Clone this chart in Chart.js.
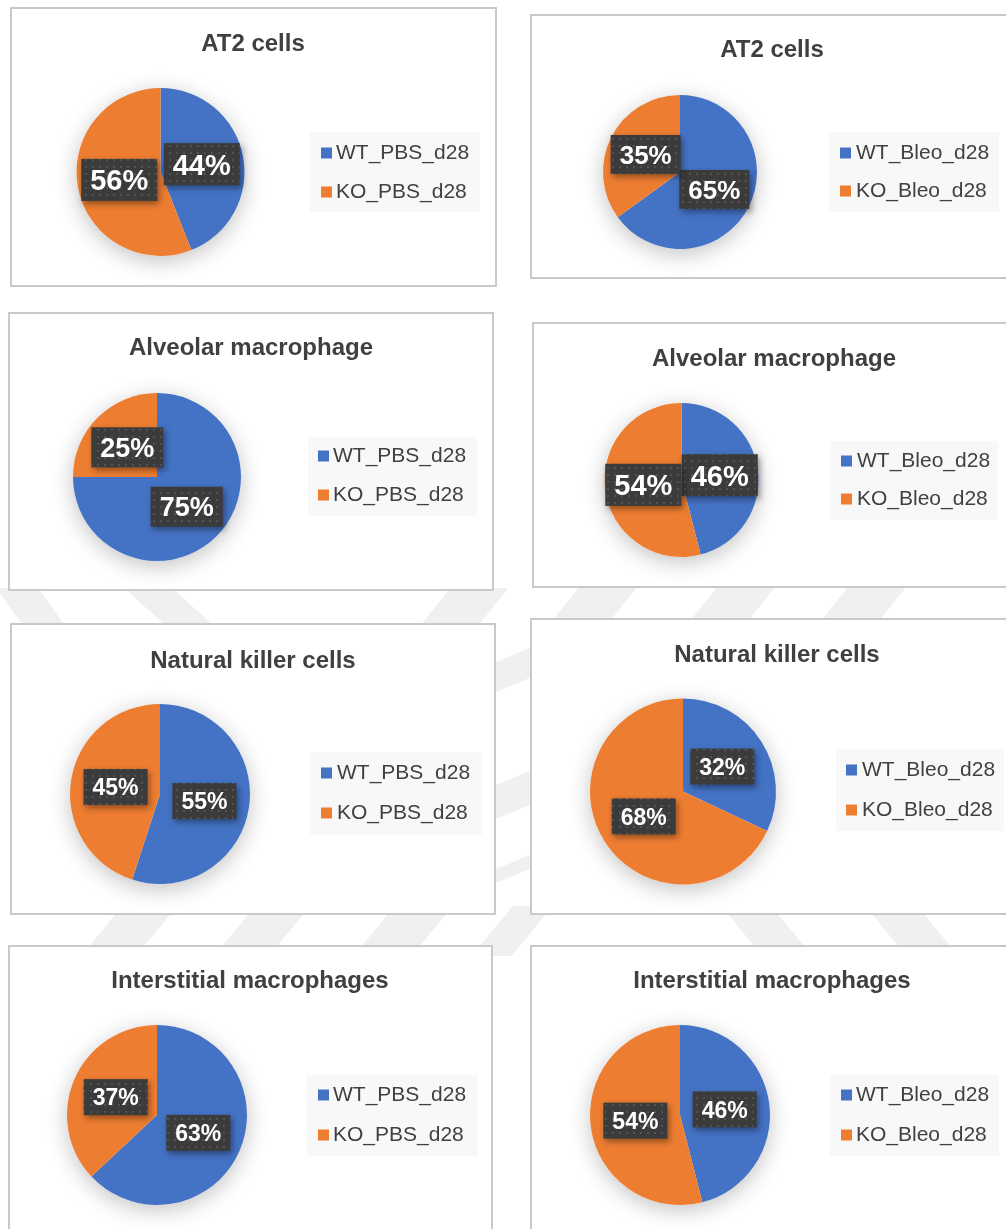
<!DOCTYPE html>
<html>
<head>
<meta charset="utf-8">
<title>Cell population shares, WT vs KO</title>
<script src="https://cdn.jsdelivr.net/npm/chart.js@4.4.1/dist/chart.umd.min.js"></script>
<style>
  html, body { margin: 0; padding: 0; background: #ffffff; }
  body { width: 1006px; height: 1229px; position: relative; overflow: hidden; }
  #backdrop { position: absolute; left: 0; top: 0; z-index: 0; }
  .panel { position: absolute; box-sizing: border-box; border: 2px solid #c9c9c9; background: #ffffff; z-index: 1; }
  .panel canvas { position: absolute; left: 0; top: 0; }
</style>
</head>
<body>
<canvas id="backdrop" width="1006" height="1229"></canvas>
<script>
// ---- data ----
const panelTitles = [
  'AT2 cells', 'AT2 cells',
  'Alveolar macrophage', 'Alveolar macrophage',
  'Natural killer cells', 'Natural killer cells',
  'Interstitial macrophages', 'Interstitial macrophages'
];
const pbsGroups = ['WT_PBS_d28', 'KO_PBS_d28'];
const bleoGroups = ['WT_Bleo_d28', 'KO_Bleo_d28'];
// left column = PBS, right column = Bleo
const panelGroups = [pbsGroups, bleoGroups, pbsGroups, bleoGroups, pbsGroups, bleoGroups, pbsGroups, bleoGroups];
const wtPercent = [44, 65, 75, 46, 55, 32, 63, 46];
const koPercent = [56, 35, 25, 54, 45, 68, 37, 54];

// ---- page layout (absolute page coordinates) ----
const frames = [
  { box: [10, 7, 487, 280],   pie: [160.5, 172, 84], title: [253, 42],  legend: [310, 132, 170, 80],  rows: [153, 192],   key: 321, text: 336, tag: 29 },
  { box: [530, 14, 484, 265], pie: [680, 172, 77],   title: [772, 48],  legend: [829, 132, 170, 80],  rows: [153, 191],   key: 840, text: 856, tag: 26 },
  { box: [8, 312, 486, 279],  pie: [157, 477, 84],   title: [251, 346], legend: [308, 437, 169, 79],  rows: [456, 495],   key: 318, text: 333, tag: 27 },
  { box: [532, 322, 482, 266],pie: [681.5, 480, 77], title: [774, 357], legend: [830, 441, 168, 79],  rows: [461, 499],   key: 841, text: 857, tag: 29 },
  { box: [10, 623, 486, 292], pie: [160, 794, 90],   title: [253, 659], legend: [310, 752, 172, 83],  rows: [773, 813],   key: 321, text: 337, tag: 23 },
  { box: [530, 618, 484, 297],pie: [683, 791.5, 93], title: [777, 653], legend: [836, 749, 168, 82],  rows: [770, 810],   key: 846, text: 862, tag: 23 },
  { box: [8, 945, 485, 300],  pie: [157, 1115, 90],  title: [250, 979], legend: [307, 1075, 171, 81], rows: [1095, 1135], key: 318, text: 333, tag: 23 },
  { box: [530, 945, 484, 300],pie: [680, 1115, 90],  title: [772, 979], legend: [830, 1075, 169, 81], rows: [1095, 1135], key: 841, text: 856, tag: 23 }
];

const FONT = '"Liberation Sans", Arial, Helvetica, sans-serif';
const SLICE_COLORS = ['#4472C4', '#ED7D31'];
const INK = '#404040';

// faint diagonal bands of the page background
(function drawBackdrop() {
  const c = document.getElementById('backdrop').getContext('2d');
  c.fillStyle = '#f0f0f0';
  function band(xMid, yMid, slope, width, y0, y1) {
    const xa = xMid + slope * (y0 - yMid), xb = xMid + slope * (y1 - yMid);
    c.beginPath();
    c.moveTo(xa - width / 2, y0); c.lineTo(xa + width / 2, y0);
    c.lineTo(xb + width / 2, y1); c.lineTo(xb - width / 2, y1);
    c.closePath(); c.fill();
  }
  // upper gap
  band(30, 606, 0.7, 42, 588, 624);
  band(168, 606, 1.1, 48, 588, 624);
  [465, 593, 731, 862].forEach(x => band(x, 606, -0.8, 58, 588, 624));
  // lower gap
  band(130, 930, -0.83, 55, 912, 948);
  band(263, 930, -0.83, 55, 912, 948);
  band(404, 930, -0.83, 58, 912, 948);
  band(513, 930, -0.83, 40, 906, 956);
  band(766, 930, 0.83, 50, 912, 948);
  band(911, 930, 0.83, 52, 912, 948);
  // column gap
  function slab(yMid, thick) {
    c.beginPath();
    c.moveTo(494, yMid + 8 - thick / 2); c.lineTo(532, yMid - 8 - thick / 2);
    c.lineTo(532, yMid - 8 + thick / 2); c.lineTo(494, yMid + 8 + thick / 2);
    c.closePath(); c.fill();
  }
  slab(670, 30); slab(795, 34); slab(869, 14);
})();

// dotted fill for the value tags
function makeDotPattern(ctx) {
  const p = document.createElement('canvas');
  p.width = 7; p.height = 7;
  const g = p.getContext('2d');
  g.fillStyle = '#3b3b3b'; g.fillRect(0, 0, 7, 7);
  g.fillStyle = '#525252'; g.fillRect(3, 3, 2, 2);
  return ctx.createPattern(p, 'repeat');
}

const panelDecor = {
  id: 'panelDecor',
  beforeDatasetsDraw(chart, args, opts) {
    const arc = chart.getDatasetMeta(0).data[0];
    if (!arc) return;
    const ctx = chart.ctx;
    ctx.save();
    ctx.shadowColor = 'rgba(0,0,0,0.24)';
    ctx.shadowBlur = 22;
    ctx.shadowOffsetY = 5;
    ctx.fillStyle = '#ffffff';
    ctx.beginPath();
    ctx.arc(arc.x, arc.y, arc.outerRadius, 0, Math.PI * 2);
    ctx.fill();
    ctx.restore();
  },
  afterDatasetsDraw(chart, args, opts) {
    const ctx = chart.ctx;
    const meta = chart.getDatasetMeta(0);
    const values = chart.data.datasets[0].data;
    const fs = opts.tagSize;
    const pattern = makeDotPattern(ctx);
    meta.data.forEach((arc, i) => {
      const p = arc.tooltipPosition();
      const txt = values[i] + '%';
      ctx.save();
      ctx.font = 'bold ' + fs + 'px ' + FONT;
      const w = ctx.measureText(txt).width + 18;
      const h = fs + 13;
      ctx.shadowColor = 'rgba(0,0,0,0.4)';
      ctx.shadowBlur = 6;
      ctx.shadowOffsetX = 2;
      ctx.shadowOffsetY = 3;
      ctx.fillStyle = pattern;
      ctx.fillRect(p.x - w / 2, p.y - h / 2, w, h);
      ctx.restore();
      ctx.save();
      ctx.font = 'bold ' + fs + 'px ' + FONT;
      ctx.fillStyle = '#ffffff';
      ctx.textAlign = 'center';
      ctx.textBaseline = 'alphabetic';
      ctx.fillText(txt, p.x, p.y + 0.358 * fs);
      ctx.restore();
    });
  },
  afterDraw(chart, args, opts) {
    const ctx = chart.ctx;
    const f = opts.frame, ox = opts.ox, oy = opts.oy;
    // title
    ctx.save();
    ctx.font = 'bold 24px ' + FONT;
    ctx.fillStyle = INK;
    ctx.textAlign = 'center';
    ctx.textBaseline = 'alphabetic';
    ctx.fillText(opts.title, f.title[0] - ox, f.title[1] - oy + 0.358 * 24);
    ctx.restore();
    // legend
    ctx.save();
    ctx.fillStyle = '#f8f8f8';
    ctx.fillRect(f.legend[0] - ox, f.legend[1] - oy, f.legend[2], f.legend[3]);
    ctx.font = '21px ' + FONT;
    ctx.textBaseline = 'alphabetic';
    ctx.textAlign = 'left';
    chart.data.labels.forEach((lab, i) => {
      const y = f.rows[i] - oy;
      ctx.fillStyle = chart.data.datasets[0].backgroundColor[i];
      ctx.fillRect(f.key - ox, y - 5.5, 11, 11);
      ctx.fillStyle = INK;
      ctx.fillText(lab, f.text - ox, y - 1.5 + 0.358 * 21);
    });
    ctx.restore();
  }
};

frames.forEach((f, k) => {
  const [bx, by, bw, bh] = f.box;
  const div = document.createElement('div');
  div.className = 'panel';
  div.style.left = bx + 'px';
  div.style.top = by + 'px';
  div.style.width = bw + 'px';
  div.style.height = bh + 'px';
  const cv = document.createElement('canvas');
  const cw = bw - 4, ch = bh - 4;
  cv.width = cw; cv.height = ch;
  cv.style.width = cw + 'px'; cv.style.height = ch + 'px';
  div.appendChild(cv);
  document.body.appendChild(div);

  const ox = bx + 2, oy = by + 2;
  const [cx, cy, r] = f.pie;
  const lx = cx - ox, ly = cy - oy;

  new Chart(cv.getContext('2d'), {
    type: 'pie',
    data: {
      labels: panelGroups[k],
      datasets: [{
        data: [wtPercent[k], koPercent[k]],
        backgroundColor: SLICE_COLORS,
        borderWidth: 0
      }]
    },
    options: {
      responsive: false,
      devicePixelRatio: 1,
      animation: false,
      events: [],
      layout: {
        padding: { left: lx - r, right: cw - lx - r, top: ly - r, bottom: ch - ly - r }
      },
      plugins: {
        legend: { display: false },
        title: { display: false },
        tooltip: { enabled: false },
        panelDecor: { frame: f, ox: ox, oy: oy, title: panelTitles[k], tagSize: f.tag }
      }
    },
    plugins: [panelDecor]
  });
});
</script>
</body>
</html>
